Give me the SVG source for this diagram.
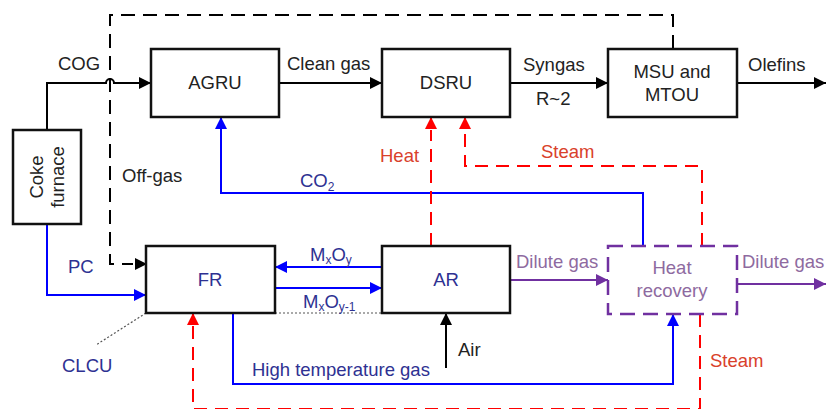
<svg xmlns="http://www.w3.org/2000/svg" width="826" height="409" viewBox="0 0 826 409">
<defs>
<style>
text{font-family:"Liberation Sans",Arial,sans-serif;font-size:18.5px}
.box{fill:#fff;stroke:#111;stroke-width:2.5}
.blk{fill:none;stroke:#000;stroke-width:2}
.bdash{fill:none;stroke:#000;stroke-width:2;stroke-dasharray:14,8}
.blue{fill:none;stroke:#0000ff;stroke-width:2}
.red{fill:none;stroke:#ff0000;stroke-width:2;stroke-dasharray:13,8}
.pur{fill:none;stroke:#7030a0;stroke-width:2}
.tk{fill:#222}
.tb{fill:#2e3192}
.tr{fill:#d9412b}
.tp{fill:#8e6aa0}
</style>
<marker id="ak" viewBox="0 0 12 12" refX="12" refY="6" markerWidth="12" markerHeight="12" markerUnits="userSpaceOnUse" orient="auto"><path d="M0,0L12,6L0,12z" fill="#000"/></marker>
<marker id="ab" viewBox="0 0 12 12" refX="12" refY="6" markerWidth="12" markerHeight="12" markerUnits="userSpaceOnUse" orient="auto"><path d="M0,0L12,6L0,12z" fill="#0000ff"/></marker>
<marker id="ar" viewBox="0 0 12 12" refX="12" refY="6" markerWidth="12" markerHeight="12" markerUnits="userSpaceOnUse" orient="auto"><path d="M0,0L12,6L0,12z" fill="#ff0000"/></marker>
<marker id="ap" viewBox="0 0 12 12" refX="12" refY="6" markerWidth="12" markerHeight="12" markerUnits="userSpaceOnUse" orient="auto"><path d="M0,0L12,6L0,12z" fill="#7030a0"/></marker>
</defs>
<g id="connectors">
<path class="bdash" d="M673,49V15H110V264H133"/>
<path class="blk" d="M141,264H147" marker-end="url(#ak)"/>
<path class="blk" d="M47,129V83H106A4,4 0 0 1 114,83H151" marker-end="url(#ak)"/>
<path class="blk" d="M279,83H382" marker-end="url(#ak)"/>
<path class="blk" d="M510,83H608" marker-end="url(#ak)"/>
<path class="blk" d="M737,83H826" marker-end="url(#ak)"/>
<path class="blue" d="M47,224V295H146" marker-end="url(#ab)"/>
<path class="blue" d="M382,267H275" marker-end="url(#ab)"/>
<path class="blue" d="M275,288H382" marker-end="url(#ab)"/>
<path class="blue" d="M643,246V193H221V117" marker-end="url(#ab)"/>
<path class="blue" d="M233,313V384H673V314" marker-end="url(#ab)"/>
<path class="blk" d="M446,368V313" marker-end="url(#ak)"/>
<path class="red" d="M431,246V130"/>
<path class="red" d="M431,129V117" marker-end="url(#ar)"/>
<path class="red" d="M702,246V166H465V130"/>
<path class="red" d="M465,129V117" marker-end="url(#ar)"/>
<path class="red" d="M700,314V409H193V326"/>
<path class="red" d="M193,325V313" marker-end="url(#ar)"/>
<path class="pur" d="M510,280H608" marker-end="url(#ap)"/>
<path class="pur" d="M737,284H826" marker-end="url(#ap)"/>
<path fill="none" stroke="#555" stroke-width="1.2" stroke-dasharray="2,2" d="M275,313H382M146,313L96,345"/>
</g>
<g id="coke"><rect class="box" x="13" y="130" width="68" height="94"/>
<text class="tk" transform="translate(47,177) rotate(-90)" text-anchor="middle"><tspan x="0" y="-4">Coke</tspan><tspan x="0" y="17">furnace</tspan></text></g>
<g id="agru"><rect class="box" x="151" y="49" width="128" height="68"/><text class="tk" x="215" y="89" text-anchor="middle">AGRU</text></g>
<g id="dsru"><rect class="box" x="382" y="49" width="128" height="68"/><text class="tk" x="446" y="89" text-anchor="middle">DSRU</text></g>
<g id="msu"><rect class="box" x="608" y="49" width="129" height="68"/><text class="tk" x="672" y="78" text-anchor="middle">MSU and</text><text class="tk" x="672" y="101" text-anchor="middle">MTOU</text></g>
<g id="fr"><rect class="box" x="146" y="246" width="129" height="67"/><text class="tb" x="210" y="286" text-anchor="middle">FR</text></g>
<g id="ar"><rect class="box" x="382" y="246" width="128" height="67"/><text class="tb" x="446" y="286" text-anchor="middle">AR</text></g>
<g id="hr"><rect x="608" y="246" width="129" height="68" fill="#fff" stroke="#7030a0" stroke-width="2.5" stroke-dasharray="15,8"/><text class="tp" x="672" y="274" text-anchor="middle">Heat</text><text class="tp" x="672" y="297" text-anchor="middle">recovery</text></g>
<g id="labels">
<text class="tk" x="58" y="70">COG</text>
<text class="tk" x="287" y="70">Clean gas</text>
<text class="tk" x="523" y="71">Syngas</text>
<text class="tk" x="536" y="105">R~2</text>
<text class="tk" x="748" y="71">Olefins</text>
<text class="tk" x="122" y="182">Off-gas</text>
<text class="tb" x="300" y="187">CO<tspan font-size="12" dy="4">2</tspan></text>
<text class="tr" x="380" y="162">Heat</text>
<text class="tr" x="541" y="158">Steam</text>
<text class="tb" x="68" y="273">PC</text>
<text class="tb" x="62" y="372">CLCU</text>
<text class="tb" x="310" y="261">M<tspan font-size="12" dy="3">x</tspan><tspan dy="-3">O</tspan><tspan font-size="12" dy="3">y</tspan></text>
<text class="tb" x="303" y="308">M<tspan font-size="12" dy="3">x</tspan><tspan dy="-3">O</tspan><tspan font-size="12" dy="3">y-1</tspan></text>
<text class="tp" x="516" y="268">Dilute gas</text>
<text class="tp" x="742" y="268">Dilute gas</text>
<text class="tk" x="458" y="356">Air</text>
<text class="tb" x="252" y="376">High temperature gas</text>
<text class="tr" x="710" y="367">Steam</text>
</g>
</svg>
